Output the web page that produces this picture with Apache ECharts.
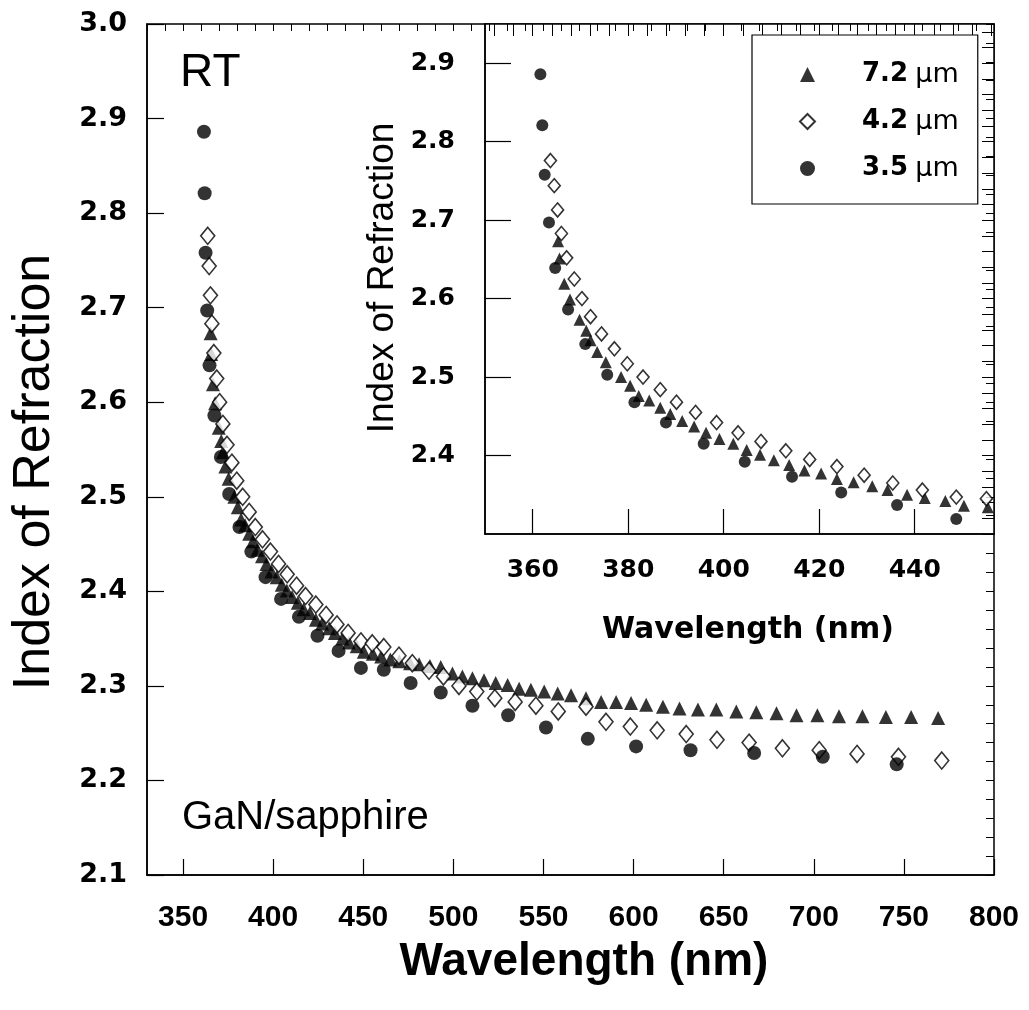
<!DOCTYPE html>
<html>
<head>
<meta charset="utf-8">
<script src="https://cdn.jsdelivr.net/npm/echarts@6/dist/echarts.min.js"></script>
<style>
  html, body { margin: 0; padding: 0; background: #fff; }
  #chart { width: 1029px; height: 1010px; }
</style>
</head>
<body>
<div id="chart"></div>
<script>
// Refractive index of GaN on sapphire at room temperature, three film thicknesses

// 7.2 um film (triangles)
const wl72 = [365.3, 365.6, 366.6, 367.8, 369.8, 371.2, 372.1, 373.5, 375.3, 378.5, 380.4, 382.2, 384.4, 386.7, 388.8,
  391.3, 393.8, 396.3, 399.1, 402.0, 404.8, 407.6, 410.5, 413.7, 416.9, 420.4, 423.7, 427.2, 431.1, 434.3, 438.4,
  442.1, 446.4, 450.3, 455.3, 460, 465, 470, 476, 481, 487, 493.0, 499.5, 505.0, 510.6, 517.0, 523.5, 530.1, 536.5,
  543.0, 550.4, 557.9, 565.3, 573.6, 582.0, 590.3, 598.6, 607.0, 616.3, 625.5, 635.7, 645.9, 657.0, 668.1, 679.3,
  690.4, 702, 714, 727, 740, 754, 769];
const n72 = [2.673, 2.651, 2.619, 2.599, 2.573, 2.559, 2.547, 2.532, 2.519, 2.500, 2.489, 2.476, 2.470, 2.461, 2.453,
  2.444, 2.437, 2.429, 2.421, 2.415, 2.407, 2.401, 2.394, 2.388, 2.381, 2.377, 2.370, 2.366, 2.361, 2.356, 2.350,
  2.346, 2.342, 2.336, 2.334, 2.331, 2.328, 2.326, 2.324, 2.323, 2.321, 2.320, 2.313, 2.310, 2.308, 2.306, 2.303,
  2.301, 2.297, 2.296, 2.294, 2.292, 2.290, 2.287, 2.283, 2.283, 2.282, 2.280, 2.278, 2.276, 2.275, 2.275, 2.273,
  2.272, 2.271, 2.269, 2.269, 2.268, 2.268, 2.267, 2.267, 2.266];

// 4.2 um film (open diamonds)
const wl42 = [363.7, 364.5, 365.2, 366.0, 367.1, 368.7, 370.3, 372.1, 374.4, 377.1, 379.8, 383.1, 386.7, 390.1, 394.1,
  398.5, 403.0, 407.8, 413.0, 418.0, 423.7, 429.4, 435.4, 441.6, 448.7, 455.0, 461.4, 469.8, 477.2, 486.5, 494.5,
  503.1, 513.0, 523.0, 534.3, 545.8, 558.2, 573.6, 584.7, 598.2, 613.1, 629.2, 646.3, 664.1, 682.6, 703, 724, 747, 771];
const n42 = [2.776, 2.744, 2.713, 2.683, 2.652, 2.625, 2.600, 2.577, 2.555, 2.536, 2.517, 2.500, 2.484, 2.468, 2.455,
  2.442, 2.429, 2.418, 2.406, 2.395, 2.386, 2.375, 2.365, 2.356, 2.347, 2.345, 2.341, 2.332, 2.324, 2.316, 2.310,
  2.300, 2.294, 2.287, 2.283, 2.279, 2.273, 2.278, 2.262, 2.257, 2.253, 2.249, 2.243, 2.240, 2.234, 2.232, 2.228, 2.225, 2.221];

// 3.5 um film (filled circles)
const wl35 = [361.6, 362.0, 362.5, 363.4, 364.7, 367.4, 371.0, 375.6, 381.3, 387.9, 395.8, 404.4, 414.3, 424.6, 436.3,
  448.7, 461.4, 476.3, 493.0, 510.6, 530.4, 551.4, 574.6, 601.4, 631.6, 666.9, 705, 746];
const n35 = [2.886, 2.821, 2.758, 2.697, 2.639, 2.586, 2.542, 2.503, 2.468, 2.442, 2.415, 2.392, 2.373, 2.353, 2.337,
  2.319, 2.317, 2.303, 2.293, 2.279, 2.269, 2.256, 2.244, 2.236, 2.232, 2.229, 2.225, 2.217];

const seriesNames = ['7.2 \u03bcm', '4.2 \u03bcm', '3.5 \u03bcm'];

// tick labels
const mainXTicks = [350, 400, 450, 500, 550, 600, 650, 700, 750, 800];
const mainYTicks = [2.1, 2.2, 2.3, 2.4, 2.5, 2.6, 2.7, 2.8, 2.9, 3.0];
const insetXTicks = [360, 380, 400, 420, 440];
const insetYTicks = [2.4, 2.5, 2.6, 2.7, 2.8, 2.9];

function steps(from, to, step, digits) {
  const out = [];
  const f = Math.pow(10, digits);
  for (let v = from; v <= to + step / 2; v += step) out.push(Math.round(v * f) / f);
  return out;
}
const mainXMinor = steps(330, 800, 10, 0);
const mainYMinor = steps(2.1, 3.0, 0.02, 2);
const insetXMinor = steps(352, 456, 4, 0);
const insetYMinor = steps(2.3, 2.94, 0.02, 2);

const pair = (xs, ys) => xs.map((x, i) => [x, ys[i]]);
const d72 = pair(wl72, n72), d42 = pair(wl42, n42), d35 = pair(wl35, n35);

const BLACK = '#000';
const tickFont = 'DejaVu Sans';
const axisLineStyle = { color: BLACK, width: 1.5 };

function majorAxis(grid, min, max, ticks, len, label) {
  return {
    type: 'value', gridIndex: grid, min: min, max: max,
    axisLine: { show: true, onZero: false, lineStyle: axisLineStyle },
    axisTick: { show: true, inside: true, length: len, customValues: ticks, lineStyle: { color: BLACK, width: 1.2 } },
    axisLabel: Object.assign({ customValues: ticks, color: BLACK }, label),
    splitLine: { show: false }
  };
}
function minorAxis(grid, min, max, ticks, len) {
  return {
    type: 'value', gridIndex: grid, min: min, max: max,
    axisLine: { show: false, onZero: false },
    axisTick: { show: true, inside: true, length: len, customValues: ticks, lineStyle: { color: BLACK, width: 1 } },
    axisLabel: { show: false },
    splitLine: { show: false }
  };
}

const chart = echarts.init(document.getElementById('chart'), null, { renderer: 'canvas' });

const mainSize = { tri: 14, dia: [14, 17], cir: 14 };
const insetSize = { tri: 12, dia: [12, 14], cir: 12 };

function seriesFor(axisX, axisY, size) {
  return [
    { name: seriesNames[0], type: 'scatter', xAxisIndex: axisX, yAxisIndex: axisY, data: d72,
      symbol: 'triangle', symbolSize: size.tri, itemStyle: { color: BLACK }, clip: true, z: 2 },
    { name: seriesNames[1], type: 'scatter', xAxisIndex: axisX, yAxisIndex: axisY, data: d42,
      symbol: 'diamond', symbolSize: size.dia, itemStyle: { color: '#fff', borderColor: BLACK, borderWidth: 1.6 }, clip: true, z: 3 },
    { name: seriesNames[2], type: 'scatter', xAxisIndex: axisX, yAxisIndex: axisY, data: d35,
      symbol: 'circle', symbolSize: size.cir, itemStyle: { color: BLACK }, clip: true, z: 4 }
  ];
}

const option = {
  backgroundColor: '#fff',
  animation: false,
  grid: [
    { left: 147, top: 24, width: 847, height: 851, show: true, borderColor: BLACK, borderWidth: 1.5, backgroundColor: 'transparent' },
    { left: 485, top: 24, width: 509, height: 510, show: true, borderColor: BLACK, borderWidth: 1.5, backgroundColor: '#fff' }
  ],
  xAxis: [
    majorAxis(0, 330, 800, mainXTicks, 16, { margin: 28, fontFamily: 'Liberation Sans', fontWeight: 'bold', fontSize: 30 }),
    minorAxis(0, 330, 800, mainXMinor, 7),
    majorAxis(1, 350, 456.6, insetXTicks, 25, { margin: 24, fontFamily: tickFont, fontWeight: 'bold', fontSize: 25 }),
    minorAxis(1, 350, 456.6, insetXMinor, 12)
  ],
  yAxis: [
    majorAxis(0, 2.1, 3.0, mainYTicks, 17, { margin: 20, fontFamily: tickFont, fontWeight: 'bold', fontSize: 27,
      formatter: v => v.toFixed(1) }),
    minorAxis(0, 2.1, 3.0, mainYMinor, 8),
    majorAxis(1, 2.3, 2.95, insetYTicks, 26, { margin: 30, fontFamily: tickFont, fontWeight: 'bold', fontSize: 25,
      formatter: v => v.toFixed(1) }),
    minorAxis(1, 2.3, 2.95, insetYMinor, 12)
  ],
  legend: {
    orient: 'vertical', left: 752, top: 35,
    data: seriesNames,
    backgroundColor: '#fff', borderColor: BLACK, borderWidth: 1.2,
    padding: [26, 19, 22, 47],
    itemWidth: 15, itemHeight: 15, itemGap: 20,
    formatter: name => '{num|' + name.split(' ')[0] + '} {unit|\u03bcm}',
    textStyle: {
      color: BLACK, padding: [0, 0, 0, 42], fontSize: 26, lineHeight: 26,
      rich: {
        num: { fontFamily: tickFont, fontWeight: 'bold', fontSize: 26, lineHeight: 26, color: BLACK },
        unit: { fontFamily: tickFont, fontWeight: 'normal', fontSize: 27, lineHeight: 26, color: BLACK }
      }
    }
  },
  graphic: [
    { type: 'text', x: 35, y: 472, rotation: Math.PI / 2,
      style: { text: 'Index of Refraction', font: 'normal 52px "Liberation Sans"', fill: BLACK, align: 'center', verticalAlign: 'middle' }, z: 10 },
    { type: 'text', x: 584, y: 962, style: { text: 'Wavelength (nm)', font: 'bold 46px "Liberation Sans"', fill: BLACK, align: 'center', verticalAlign: 'middle' }, z: 10 },
    { type: 'text', x: 180, y: 73, style: { text: 'RT', font: 'normal 46px "Liberation Sans"', fill: BLACK, align: 'left', verticalAlign: 'middle' }, z: 10 },
    { type: 'text', x: 182, y: 818, style: { text: 'GaN/sapphire', font: 'normal 40px "Liberation Sans"', fill: BLACK, align: 'left', verticalAlign: 'middle' }, z: 10 },
    { type: 'text', x: 383, y: 278, rotation: Math.PI / 2,
      style: { text: 'Index of Refraction', font: 'normal 37px "Liberation Sans"', fill: BLACK, align: 'center', verticalAlign: 'middle' }, z: 10 },
    { type: 'text', x: 748, y: 630, style: { text: 'Wavelength (nm)', font: 'bold 30px "DejaVu Sans"', fill: BLACK, align: 'center', verticalAlign: 'middle' }, z: 10 }
  ],
  series: seriesFor(0, 0, mainSize).concat(seriesFor(2, 2, insetSize))
};

chart.setOption(option);
</script>
</body>
</html>
